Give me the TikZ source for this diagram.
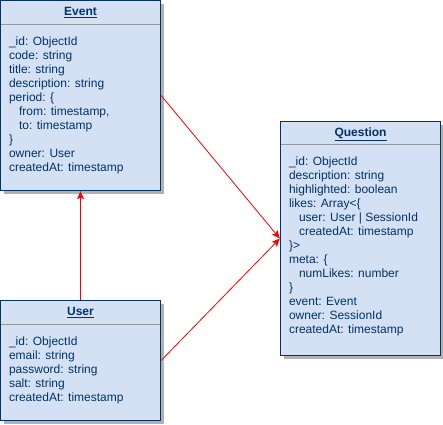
\documentclass[tikz,border=0pt]{standalone}
\usepackage{fontspec}
\setmainfont{Liberation Sans}
\usetikzlibrary{arrows.meta,shadows}

\definecolor{boxfill}{HTML}{D4E1F5}
\definecolor{boxline}{HTML}{003366}
\definecolor{divgray}{HTML}{9A9A9A}

\tikzset{
	classbox/.style={draw=boxline, line width=1.3pt, fill=boxfill, minimum width=160pt, inner sep=0pt,
		drop shadow={shadow xshift=3pt, shadow yshift=-3pt, fill=black!30, opacity=1}},
	classtitle/.style={text=boxline, anchor=base, inner sep=0pt, font=\fontsize{12}{14}\selectfont\bfseries},
	fieldlist/.style={text=boxline, anchor=north west, align=left, inner sep=0pt, font=\fontsize{12}{14}\selectfont},
	divider/.style={draw=divgray, line width=1pt},
	relation/.style={red, line width=0.8pt, -{Stealth[length=8pt, width=7pt, inset=1.5pt]}}
}

\begin{document}
\begin{tikzpicture}[x=1pt, y=-1pt]
	\useasboundingbox (0,0) rectangle (443,424);

	% Event
	\node[classbox, minimum height=190pt] (event) at (80.5, 95.5) {};
	\node[classtitle] (eventTitle) at ([yshift=-16pt]event.north) {\underline{Event}};
	\draw[divider] ([xshift=0.7pt, yshift=-24.5pt]event.north west) -- ([xshift=-0.7pt, yshift=-24.5pt]event.north east);
	\node[fieldlist] (eventFields) at ([xshift=9pt, yshift=-37pt]event.north west) {%
		\_id: ObjectId\\ code: string\\ title: string\\ description: string\\ period: \{\\
		\hspace*{10pt}from: timestamp,\\ \hspace*{10pt}to: timestamp\\ \}\\ owner: User\\ createdAt: timestamp};

	% User
	\node[classbox, minimum height=120pt] (user) at (80.5, 360.5) {};
	\node[classtitle] (userTitle) at ([yshift=-16pt]user.north) {\underline{User}};
	\draw[divider] ([xshift=0.7pt, yshift=-24.5pt]user.north west) -- ([xshift=-0.7pt, yshift=-24.5pt]user.north east);
	\node[fieldlist] (userFields) at ([xshift=9pt, yshift=-37pt]user.north west) {%
		\_id: ObjectId\\ email: string\\ password: string\\ salt: string\\ createdAt: timestamp};

	% Question
	\node[classbox, minimum height=234pt] (question) at (360.5, 238.5) {};
	\node[classtitle] (questionTitle) at ([yshift=-15.5pt]question.north) {\underline{Question}};
	\draw[divider] ([xshift=0.7pt, yshift=-23.5pt]question.north west) -- ([xshift=-0.7pt, yshift=-23.5pt]question.north east);
	\node[fieldlist] (questionFields) at ([xshift=9pt, yshift=-36pt]question.north west) {%
		\_id: ObjectId\\ description: string\\ highlighted: boolean\\ likes: Array<\{\\
		\hspace*{10pt}user: User | SessionId\\ \hspace*{10pt}createdAt: timestamp\\ \}>\\ meta: \{\\
		\hspace*{10pt}numLikes: number\\ \}\\ event: Event\\ owner: SessionId\\ createdAt: timestamp};

	% relations
	\draw[relation] (user.north) -- (event.south);
	\draw[relation] (event.east) -- (question.west);
	\draw[relation] (user.east) -- (question.west);
\end{tikzpicture}
\end{document}
